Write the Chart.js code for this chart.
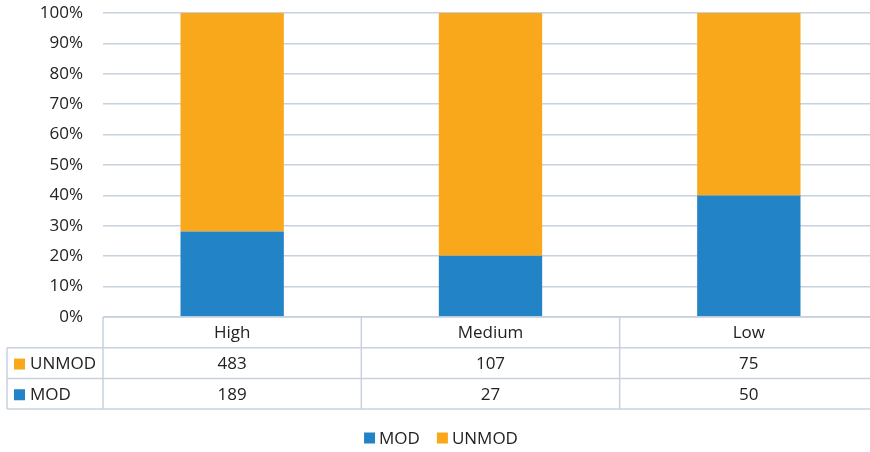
<!DOCTYPE html>
<html>
<head>
<meta charset="utf-8">
<script src="https://cdn.jsdelivr.net/npm/chart.js@4"></script>
<style>
html,body{margin:0;padding:0;background:#fff;overflow:hidden;}
#wrap{width:870px;height:452px;position:relative;overflow:hidden;}
</style>
</head>
<body>
<div id="wrap"><canvas id="c" width="878" height="452"></canvas></div>
<script>
const categories = ['High', 'Medium', 'Low'];
const modCounts = [189, 27, 50];
const unmodCounts = [483, 107, 75];
const yTicks = ['0%','10%','20%','30%','40%','50%','60%','70%','80%','90%','100%'];

const FONT = '"Open Sans", "Noto Sans", sans-serif';
const FSIZE = 17;
const TEXT = '#222222';
const GRID = '#C8D2DF';
const BLUE = '#2283C6';
const ORANGE = '#F9A81C';

const totals = categories.map((_, i) => modCounts[i] + unmodCounts[i]);
const modPct = modCounts.map((v, i) => v / totals[i] * 100);
const unmodPct = unmodCounts.map((v, i) => v / totals[i] * 100);

const tablePlugin = {
  id: 'dataTable',
  afterDraw(chart) {
    const ctx = chart.ctx;
    const x = chart.scales.x;
    const area = chart.chartArea;
    const n = categories.length;
    const half = (x.getPixelForValue(1) - x.getPixelForValue(0)) / 2;
    const left = area.left, right = area.right;
    const top = area.bottom;
    const rowH = 30.7;
    const tableLeft = 7;
    const rows = [
      {name: 'UNMOD', color: ORANGE, vals: unmodCounts},
      {name: 'MOD', color: BLUE, vals: modCounts}
    ];
    ctx.save();
    ctx.strokeStyle = GRID;
    ctx.lineWidth = 1.5;
    ctx.beginPath();
    ctx.moveTo(left, top); ctx.lineTo(right, top);
    for (let r = 1; r <= rows.length + 1; r++) {
      const y = top + rowH * r;
      ctx.moveTo(tableLeft, y); ctx.lineTo(right, y);
    }
    ctx.moveTo(tableLeft, top + rowH); ctx.lineTo(tableLeft, top + rowH * 3);
    for (let i = 0; i <= n; i++) {
      const xx = i < n ? x.getPixelForValue(i) - half : x.getPixelForValue(n - 1) + half;
      ctx.moveTo(xx, top); ctx.lineTo(xx, top + rowH * 3);
    }
    ctx.stroke();

    ctx.fillStyle = TEXT;
    ctx.font = FSIZE + 'px ' + FONT;
    ctx.textAlign = 'center';
    ctx.textBaseline = 'middle';
    categories.forEach((c, i) => {
      ctx.fillText(c, x.getPixelForValue(i), top + rowH / 2 + 1);
    });
    rows.forEach((row, r) => {
      const yc = top + rowH * (r + 1) + rowH / 2 + 1;
      ctx.fillStyle = row.color;
      ctx.fillRect(14, yc - 5.5, 11, 11);
      ctx.fillStyle = TEXT;
      ctx.textAlign = 'left';
      ctx.fillText(row.name, 30, yc);
      ctx.textAlign = 'center';
      row.vals.forEach((v, i) => ctx.fillText(String(v), x.getPixelForValue(i), yc));
    });

    // legend
    const ds = chart.data.datasets;
    const box = 11, gapText = 4, gapItem = 17;
    const widths = ds.map(d => box + gapText + ctx.measureText(d.label).width);
    const total = widths.reduce((a, b) => a + b, 0) + gapItem * (ds.length - 1);
    let lx = 441 - total / 2;
    const ly = 438;
    ds.forEach((d, i) => {
      ctx.fillStyle = d.backgroundColor;
      ctx.fillRect(lx, ly - 5.5, box, box);
      ctx.fillStyle = TEXT;
      ctx.textAlign = 'left';
      ctx.fillText(d.label, lx + box + gapText, ly + 1);
      lx += widths[i] + gapItem;
    });
    ctx.restore();
  }
};

new Chart(document.getElementById('c'), {
  type: 'bar',
  data: {
    labels: categories,
    datasets: [
      {label: 'MOD', data: modPct, backgroundColor: BLUE, barPercentage: 1, categoryPercentage: 0.4},
      {label: 'UNMOD', data: unmodPct, backgroundColor: ORANGE, barPercentage: 1, categoryPercentage: 0.4}
    ]
  },
  options: {
    responsive: false,
    animation: false,
    layout: {padding: {top: 13, right: 0, left: 0, bottom: 43}},
    plugins: {
      tooltip: {enabled: false},
      legend: {display: false}
    },
    scales: {
      x: {
        stacked: true,
        grid: {display: false, drawTicks: false},
        border: {display: false},
        ticks: {display: false},
        afterFit(s) { s.height = 92; s.paddingLeft = 0; s.paddingRight = 0; }
      },
      y: {
        stacked: true,
        min: 0, max: 100,
        grid: {color: GRID, lineWidth: 1.5, drawTicks: false},
        border: {display: false},
        afterFit(s) { s.width = 103; s.paddingTop = 0; s.paddingBottom = 0; },
        afterBuildTicks(s) { s.ticks = yTicks.map((_, i) => ({value: i * 10})); },
        ticks: {
          padding: 20,
          color: TEXT,
          font: {family: FONT, size: FSIZE},
          callback: (v, i) => yTicks[i]
        }
      }
    }
  },
  plugins: [tablePlugin]
});
</script>
</body>
</html>
